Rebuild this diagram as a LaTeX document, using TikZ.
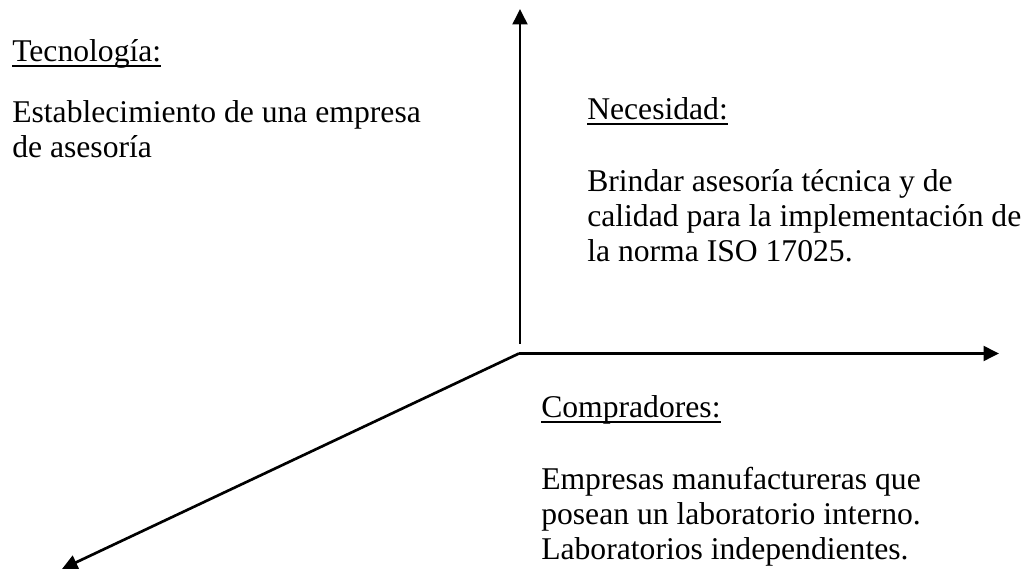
\documentclass[tikz,border=0pt]{standalone}
\usepackage{fontspec}
\setmainfont{Liberation Serif}
\usetikzlibrary{arrows.meta}

% underlined heading with a fixed rule depth (runs through descenders)
\newcommand{\ulhead}[1]{\setbox0=\hbox{#1}\rlap{\rule[-3.6pt]{\wd0}{1.3pt}}\box0}

\begin{document}
\begin{tikzpicture}[x=0.025cm,y=-0.025cm,line join=round,
  axis/.style={line width=1.9pt,-{Triangle[width=10.5pt,length=11pt]}},
  lbl/.style={anchor=base west,inner sep=0pt,align=left,
    font=\fontsize{22.5}{25.2}\selectfont}]

% fixed canvas, pixel coordinates (1034 x 569)
\path[use as bounding box] (0,0) rectangle (1034,569);

% axes
\coordinate (origin) at (519,353.5);
\coordinate (vfoot) at (520,344);
\coordinate (vtip) at (520,9);
\coordinate (htip) at (999,353.5);
\coordinate (dtip) at (62,569);

\draw[axis] (vfoot) -- (vtip);
\draw[axis] (origin) -- (htip);
\draw[axis] (origin) -- (dtip);

% technology (upper left); body nodes sit on their last baseline
\node[lbl] (tecHead) at (12,62) {\ulhead{Tecnología:}};
\node[lbl] (tecText) at (12,158) {Establecimiento de una empresa\\de asesoría};

% need (upper right)
\node[lbl] (necHead) at (587,120) {\ulhead{Necesidad:}};
\node[lbl] (necText) at (587,262) {Brindar asesoría técnica y de\\calidad para la implementación de\\la norma ISO 17025.};

% buyers (lower right)
\node[lbl] (comHead) at (541,418) {\ulhead{Compradores:}};
\node[lbl] (comText) at (541,560) {Empresas manufactureras que\\posean un laboratorio interno.\\Laboratorios independientes.};

\end{tikzpicture}
\end{document}
